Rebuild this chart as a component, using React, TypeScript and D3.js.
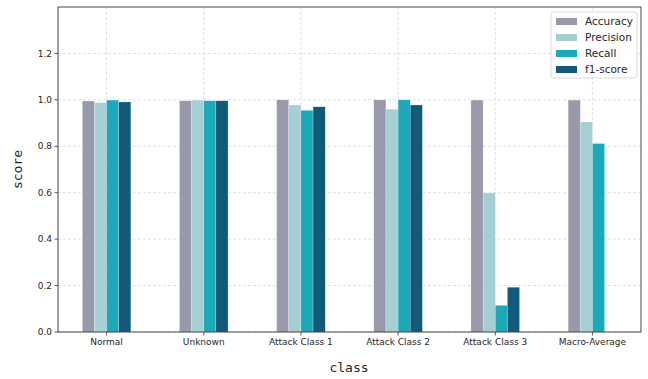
import React from "react";
import * as d3 from "d3";

const categories = ["Normal", "Unknown", "Attack Class 1", "Attack Class 2", "Attack Class 3", "Macro-Average"];
const seriesNames = ["Accuracy", "Precision", "Recall", "f1-score"];
const accuracy = [0.995, 0.996, 1.0, 1.0, 0.999, 0.999];
const precision = [0.988, 0.999, 0.978, 0.96, 0.599, 0.905];
const recall = [0.999, 0.996, 0.955, 1.0, 0.115, 0.812];
const f1score: (number | null)[] = [0.991, 0.996, 0.97, 0.978, 0.193, null];
const yTicks = [0, 0.2, 0.4, 0.6, 0.8, 1.0, 1.2];
const colors = ["#989aab", "#a4cfd4", "#1ca8b8", "#135a7a"];

const W = 648;
const H = 379;
const m = { left: 58, right: 641, top: 7, bottom: 332 };

export default function App() {
  const series = [accuracy, precision, recall, f1score];
  const x = d3.scaleLinear().domain([-0.5, categories.length - 0.5]).range([m.left, m.right]);
  const y = d3.scaleLinear().domain([0, 1.4]).range([m.bottom, m.top]);
  const barW = 0.125;
  const font = "DejaVu Sans";

  return (
    <svg width={W} height={H} style={{ position: "absolute", left: 0, top: 0, background: "#fff" }}>
      {/* grid */}
      {yTicks.map((t) => (
        <line key={"gy" + t} x1={m.left} x2={m.right} y1={y(t)} y2={y(t)} stroke="#d9d9d9" strokeWidth={0.8} strokeDasharray="3,2" />
      ))}
      {categories.map((c, i) => (
        <line key={"gx" + c} x1={x(i)} x2={x(i)} y1={m.top} y2={m.bottom} stroke="#d9d9d9" strokeWidth={0.8} strokeDasharray="3,2" />
      ))}
      {/* bars */}
      {series.map((vals, s) =>
        vals.map((v, i) =>
          v == null ? null : (
            <rect
              key={`b${s}-${i}`}
              x={x(i - 0.25 + s * barW)}
              y={y(v)}
              width={x(barW) - x(0)}
              height={y(0) - y(v)}
              fill={colors[s]}
              stroke="#ffffff"
              strokeWidth={0.4}
              strokeOpacity={0.6}
            />
          )
        )
      )}
      {/* axes frame */}
      <rect x={m.left} y={m.top} width={m.right - m.left} height={m.bottom - m.top} fill="none" stroke="#333" strokeWidth={0.9} />
      {yTicks.map((t) => (
        <g key={"ty" + t}>
          <line x1={m.left - 3.5} x2={m.left} y1={y(t)} y2={y(t)} stroke="#333" strokeWidth={0.8} />
          <text x={m.left - 6} y={y(t)} dy="0.35em" textAnchor="end" fontFamily={font} fontSize={9} fill="#262626">
            {t.toFixed(1)}
          </text>
        </g>
      ))}
      {categories.map((c, i) => (
        <g key={"tx" + c}>
          <line x1={x(i)} x2={x(i)} y1={m.bottom} y2={m.bottom + 3.5} stroke="#333" strokeWidth={0.8} />
          <text x={x(i)} y={m.bottom + 13} textAnchor="middle" fontFamily={font} fontSize={9} fill="#262626">
            {c}
          </text>
        </g>
      ))}
      <text x={349} y={372} textAnchor="middle" fontFamily="DejaVu Sans Mono" fontSize={13} fill="#262626">
        class
      </text>
      <text transform={`translate(22,${(m.top + m.bottom) / 2}) rotate(-90)`} textAnchor="middle" fontFamily="DejaVu Sans Mono" fontSize={13} fill="#262626">
        score
      </text>
      {/* legend */}
      <g transform="translate(551,12)">
        <rect x={0} y={0} width={86} height={66} rx={3} fill="#ffffff" fillOpacity={0.85} stroke="#d0d0d0" strokeWidth={0.8} />
        {seriesNames.map((n, k) => (
          <g key={n} transform={`translate(0,${9 + k * 16})`}>
            <rect x={5} y={-3} width={21} height={7} fill={colors[k]} />
            <text x={34} y={0} dy="0.35em" fontFamily={font} fontSize={10.5} fill="#262626">
              {n}
            </text>
          </g>
        ))}
      </g>
    </svg>
  );
}
